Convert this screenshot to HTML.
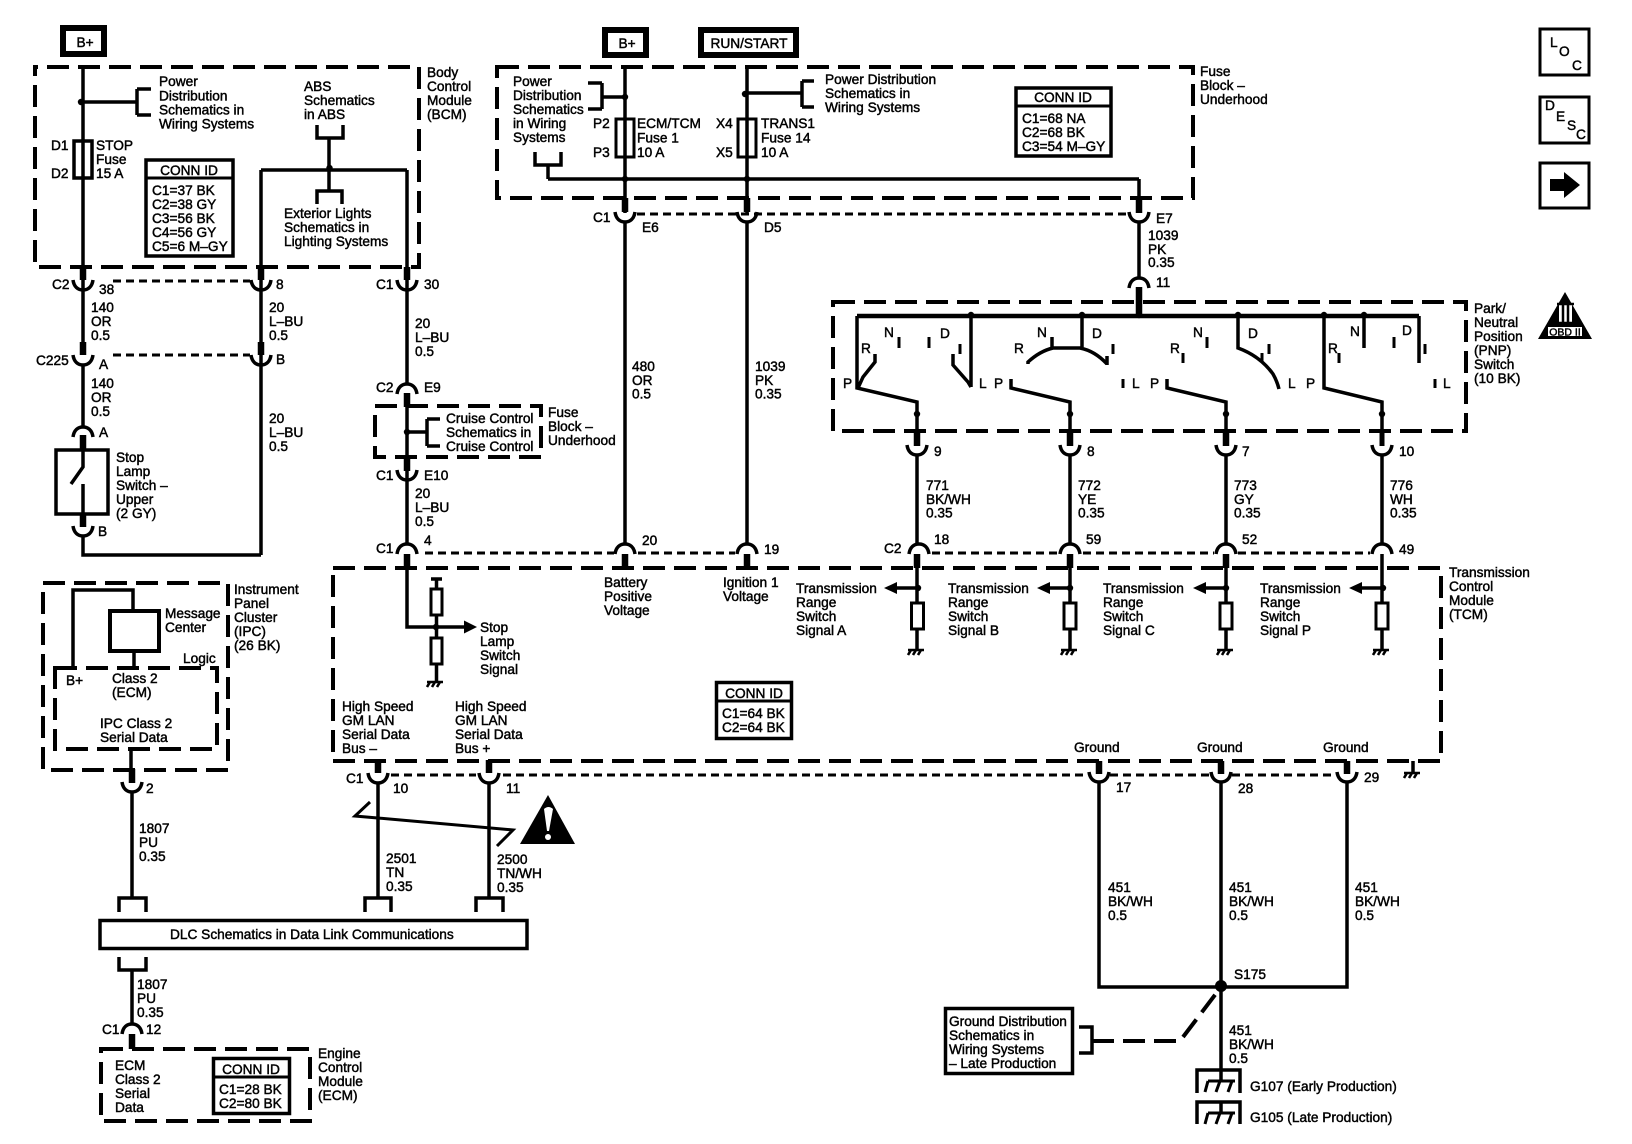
<!DOCTYPE html>
<html><head><meta charset="utf-8"><title>Wiring schematic</title>
<style>
html,body{margin:0;padding:0;background:#fff}
svg{display:block}
text{font-family:"Liberation Sans",sans-serif;font-size:13.7px;fill:#000;stroke:#000;stroke-width:.45}
.w{fill:none;stroke:#000;stroke-width:3.5}
.t{fill:none;stroke:#000;stroke-width:6.5}
.b{fill:#fff;stroke:#000;stroke-width:3.5}
.d{fill:none;stroke:#000;stroke-width:4;stroke-dasharray:22 9}
.r{fill:none;stroke:#000;stroke-width:3;stroke-dasharray:8 5}
.k{fill:none;stroke:#000;stroke-width:3}
.m{text-anchor:middle}
</style></head><body>
<svg width="1632" height="1144" viewBox="0 0 1632 1144" xmlns="http://www.w3.org/2000/svg">
<defs>
<path id="cup" d="M-10 -10C-9 -3-5 0 0 0C5 0 9 -3 10 -10" fill="none" stroke="#000" stroke-width="3.5"/>
<path id="cap" d="M-10 10C-9 3-5 0 0 0C5 0 9 3 10 10" fill="none" stroke="#000" stroke-width="3.5"/>
<path id="gnd" d="M-8 0H8M-5 0L-8 5M0 0L-3 5M5 0L2 5" fill="none" stroke="#000" stroke-width="2.6"/>
<path id="gbig" d="M-13 0H14M-13 0L-16 11M-1 0L-5 11M11 0L7 11" fill="none" stroke="#000" stroke-width="3"/>
<circle id="dot" r="3.2" fill="#000"/>
</defs>
<rect width="1632" height="1144" fill="#fff"/>

<!-- dashed module boxes -->
<rect class="d" x="35" y="67" width="384" height="200" stroke-dashoffset="-12" style="stroke-dashoffset:-12"/>
<rect class="d" x="497" y="67" width="696" height="131"/>
<rect class="d" x="833" y="302" width="633" height="129"/>
<rect class="d" x="333" y="568" width="1108" height="193"/>
<rect class="d" x="375" y="406" width="166" height="51"/>
<rect class="d" x="43" y="583" width="185" height="187"/>
<rect class="d" x="55" y="668" width="162" height="81"/>
<rect class="d" x="101" y="1049" width="209" height="72"/>

<!-- connector dashed rows -->
<path class="r" d="M113 281H250M113 355H250M637 214H1128M425 553H614M638 553H735M932 553H1058M1083 553H1214M1238 553H1370M391 775H476M503 775H1088M1110 775H1210M1232 775H1336"/>

<!-- power boxes -->
<rect x="63" y="28" width="41" height="26" fill="#fff" stroke="#000" stroke-width="6"/>
<text class="m" x="85" y="47">B+</text>
<rect x="605" y="30" width="41" height="25" fill="#fff" stroke="#000" stroke-width="6"/>
<text class="m" x="627" y="48">B+</text>
<rect x="701" y="30" width="95" height="25" fill="#fff" stroke="#000" stroke-width="6"/>
<text class="m" x="749" y="48">RUN/START</text>

<!-- BCM -->
<path class="w" d="M83 67V290M83 102H137M137 89V115M137 89H151M137 115H151M261 170V290M407 170V290M261 170H407M329 138V191M317 125V138H343V125M317 204V191H342V204M83 290V342M83 365V427M261 290V555M83 535V555H261"/>
<use href="#dot" x="81" y="102"/><use href="#dot" x="329.500" y="168"/>
<rect x="74" y="141" width="18" height="37" fill="none" stroke="#000" stroke-width="3.500"/>
<path class="t" d="M83 267V280M261 267V280M407 267V280M83 342V355M261 342V355M83 435V450M83 514V527M407 393V407M407 457V471M407 554V569"/>
<use href="#cup" x="83" y="290"/><use href="#cup" x="261" y="290"/><use href="#cup" x="407" y="290"/>
<use href="#cup" x="83" y="365"/><use href="#cup" x="261" y="365"/>
<text x="159" y="86">Power<tspan x="159" dy="14.300">Distribution</tspan><tspan x="159" dy="14">Schematics in</tspan><tspan x="159" dy="14">Wiring Systems</tspan></text>
<text x="51" y="150">D1</text><text x="51" y="178">D2</text>
<text x="96" y="150">STOP<tspan x="96" dy="14">Fuse</tspan><tspan x="96" dy="14">15 A</tspan></text>
<rect class="b" x="146" y="160" width="87" height="96"/><path class="k" d="M146 178H233"/>
<text class="m" x="189" y="175">CONN ID</text>
<text x="152" y="195">C1=37 BK<tspan x="152" dy="14">C2=38 GY</tspan><tspan x="152" dy="14">C3=56 BK</tspan><tspan x="152" dy="14">C4=56 GY</tspan><tspan x="152" dy="14">C5=6 M–GY</tspan></text>
<text x="304" y="91">ABS<tspan x="304" dy="14">Schematics</tspan><tspan x="304" dy="14">in ABS</tspan></text>
<text x="284" y="218">Exterior Lights<tspan x="284" dy="14">Schematics in</tspan><tspan x="284" dy="14">Lighting Systems</tspan></text>
<text x="427" y="77">Body<tspan x="427" dy="14">Control</tspan><tspan x="427" dy="14">Module</tspan><tspan x="427" dy="14">(BCM)</tspan></text>
<text x="52" y="289">C2</text><text x="99" y="294">38</text><text x="276" y="289">8</text><text x="376" y="289">C1</text><text x="424" y="289">30</text>
<text x="91" y="312">140<tspan x="91" dy="14">OR</tspan><tspan x="91" dy="14">0.5</tspan></text>
<text x="269" y="312">20<tspan x="269" dy="14">L–BU</tspan><tspan x="269" dy="14">0.5</tspan></text>
<text x="415" y="328">20<tspan x="415" dy="14">L–BU</tspan><tspan x="415" dy="14">0.5</tspan></text>
<text x="36" y="365">C225</text><text x="99" y="369">A</text><text x="276" y="364">B</text>
<text x="91" y="388">140<tspan x="91" dy="14">OR</tspan><tspan x="91" dy="14">0.5</tspan></text>
<text x="269" y="423">20<tspan x="269" dy="14">L–BU</tspan><tspan x="269" dy="14">0.5</tspan></text>

<!-- stop lamp switch -->
<use href="#cap" x="83" y="427"/>
<rect x="56" y="450" width="52" height="64" fill="none" stroke="#000" stroke-width="3.500"/>
<path class="w" d="M83 450V467L71 484M83 484V514"/>
<use href="#cup" x="83" y="536"/>
<text x="99" y="437">A</text><text x="98" y="536">B</text>
<text x="116" y="462">Stop<tspan x="116" dy="14">Lamp</tspan><tspan x="116" dy="14">Switch –</tspan><tspan x="116" dy="14">Upper</tspan><tspan x="116" dy="14">(2 GY)</tspan></text>

<!-- C1/C2 column -->
<use href="#cap" x="407" y="384"/>
<path class="w" d="M407 290V384M407 393V544M407 554V627H464M407 432H427M427 419V446M427 419H440M427 446H440"/>
<use href="#dot" x="407" y="432"/>
<use href="#cup" x="407" y="480"/><use href="#cap" x="407" y="544"/>
<text x="376" y="392">C2</text><text x="424" y="392">E9</text>
<text x="446" y="423">Cruise Control<tspan x="446" dy="14">Schematics in</tspan><tspan x="446" dy="14">Cruise Control</tspan></text>
<text x="548" y="417">Fuse<tspan x="548" dy="14">Block –</tspan><tspan x="548" dy="14">Underhood</tspan></text>
<text x="376" y="480">C1</text><text x="424" y="480">E10</text>
<text x="415" y="498">20<tspan x="415" dy="14">L–BU</tspan><tspan x="415" dy="14">0.5</tspan></text>
<text x="376" y="553">C1</text><text x="424" y="545">4</text>

<!-- stop lamp signal inside TCM -->
<path d="M464 620.500L477 627L464 633.500Z" fill="#000"/>
<path class="w" d="M431 579H442M436.500 579V589M436.500 615V638M436.500 664V682"/>
<rect x="431" y="589" width="11" height="26" fill="none" stroke="#000" stroke-width="3"/>
<rect x="431" y="638" width="11" height="26" fill="none" stroke="#000" stroke-width="3"/>
<use href="#dot" x="436" y="627"/><use href="#gnd" x="435" y="682"/>
<text x="480" y="632">Stop<tspan x="480" dy="14">Lamp</tspan><tspan x="480" dy="14">Switch</tspan><tspan x="480" dy="14">Signal</tspan></text>

<!-- Fuse block -->
<path class="w" d="M625 67V213M747 67V213M625 222V544M747 222V544M1139 179V213M1139 222V278M548 179H1139M548 165V179M535 152V165H561V152M602 83V109M588 83H602M588 109H602M602 97H625M747 93H802M802 81V107M802 81H814M802 107H814"/>
<use href="#dot" x="625" y="97"/><use href="#dot" x="745" y="94"/><use href="#dot" x="625" y="179"/><use href="#dot" x="747" y="179"/>
<rect x="616" y="119" width="18" height="38" fill="none" stroke="#000" stroke-width="3"/>
<rect x="738" y="119" width="18" height="38" fill="none" stroke="#000" stroke-width="3"/>
<path class="t" d="M625 198V212M747 198V212M1139 198V213M1139 287V316M625 554V568M747 554V568"/>
<use href="#cup" x="625" y="222"/><use href="#cup" x="747" y="222"/><use href="#cup" x="1139" y="222"/><use href="#cap" x="1139" y="278"/>
<use href="#cap" x="625" y="544"/><use href="#cap" x="747" y="544"/>
<text x="513" y="86">Power<tspan x="513" dy="14">Distribution</tspan><tspan x="513" dy="14">Schematics</tspan><tspan x="513" dy="14">in Wiring</tspan><tspan x="513" dy="14">Systems</tspan></text>
<text x="593" y="128">P2</text><text x="593" y="157">P3</text>
<text x="637" y="128">ECM/TCM<tspan x="637" dy="14.500">Fuse 1</tspan><tspan x="637" dy="14.500">10 A</tspan></text>
<text x="716" y="128">X4</text><text x="716" y="157">X5</text>
<text x="761" y="128">TRANS1<tspan x="761" dy="14.500">Fuse 14</tspan><tspan x="761" dy="14.500">10 A</tspan></text>
<text x="825" y="84">Power Distribution<tspan x="825" dy="14">Schematics in</tspan><tspan x="825" dy="14">Wiring Systems</tspan></text>
<rect class="b" x="1016" y="88" width="95" height="68"/><path class="k" d="M1016 106H1111"/>
<text class="m" x="1063" y="102">CONN ID</text>
<text x="1022" y="123">C1=68 NA<tspan x="1022" dy="14">C2=68 BK</tspan><tspan x="1022" dy="14">C3=54 M–GY</tspan></text>
<text x="1200" y="76">Fuse<tspan x="1200" dy="14">Block –</tspan><tspan x="1200" dy="14">Underhood</tspan></text>
<text x="593" y="222">C1</text><text x="642" y="232">E6</text><text x="764" y="232">D5</text><text x="1156" y="223">E7</text>
<text x="1148" y="240">1039<tspan x="1148" dy="14">PK</tspan><tspan x="1148" dy="13">0.35</tspan></text>
<text x="1156" y="287">11</text>
<text x="632" y="371">480<tspan x="632" dy="14">OR</tspan><tspan x="632" dy="13.500">0.5</tspan></text>
<text x="755" y="371">1039<tspan x="755" dy="14">PK</tspan><tspan x="755" dy="13.500">0.35</tspan></text>
<text x="642" y="545">20</text><text x="764" y="554">19</text>
<text x="604" y="587">Battery<tspan x="604" dy="14">Positive</tspan><tspan x="604" dy="14">Voltage</tspan></text>
<text x="723" y="587">Ignition 1<tspan x="723" dy="14">Voltage</tspan></text>

<!-- PNP switch -->
<path d="M857 316H1419" fill="none" stroke="#000" stroke-width="4.500"/>
<path class="w" d="M857 316V388L917 402V446M875 354V362L863 377L858 388M971 316V387M953 354V365L968 382L971 387"/>
<path class="w" d="M1011 379V388L1070 402V446M1167 379V388L1226 402V446M1324 316V388L1382 402V446M1028 364V362Q1040 351 1053 348H1080Q1095 351 1107 364M1107 356V365M1082 316V348M1052 337V348M1238 316V348Q1260 356 1273 374Q1277 381 1279 389M1364 316V348M1419 316V363"/>
<path class="k" d="M899 337V348M929 337V348M960 344V354M1113 344V354M1123 379V388M1183 353V363M1207 337V348M1269 344V354M1262 353V361M1339 353V363M1394 337V348M1425 344V354M1435 379V388"/>
<use href="#dot" x="971" y="315"/><use href="#dot" x="1082" y="315"/><use href="#dot" x="1139" y="315"/><use href="#dot" x="1238" y="315"/><use href="#dot" x="1324" y="315"/><use href="#dot" x="1364" y="315"/>
<use href="#dot" x="917" y="414"/><use href="#dot" x="1070" y="414"/><use href="#dot" x="1226" y="414"/><use href="#dot" x="1382" y="414"/>
<text x="843" y="388">P</text><text x="861" y="353">R</text><text x="884" y="337">N</text><text x="940" y="338">D</text><text x="979" y="388">L</text><text x="994" y="388">P</text>
<text x="1014" y="353">R</text><text x="1037" y="337">N</text><text x="1092" y="338">D</text><text x="1132" y="388">L</text><text x="1150" y="388">P</text>
<text x="1170" y="353">R</text><text x="1193" y="337">N</text><text x="1248" y="338">D</text><text x="1288" y="388">L</text><text x="1306" y="388">P</text>
<text x="1328" y="353">R</text><text x="1350" y="336">N</text><text x="1402" y="335">D</text><text x="1443" y="388">L</text>
<text x="1474" y="313">Park/<tspan x="1474" dy="14">Neutral</tspan><tspan x="1474" dy="14">Position</tspan><tspan x="1474" dy="14">(PNP)</tspan><tspan x="1474" dy="14">Switch</tspan><tspan x="1474" dy="14">(10 BK)</tspan></text>

<!-- OBD triangle -->
<path d="M1565 292L1592 339H1538Z" fill="#000"/>
<rect x="1548" y="327" width="34" height="9" fill="#fff"/>
<text class="m" x="1565" y="335.500" style="font-size:10.500px">OBD II</text>
<rect x="1559" y="304" width="13" height="19" fill="#fff"/>
<path d="M1557 304H1574M1557 323H1574M1563 304V323M1568 304V323" fill="none" stroke="#000" stroke-width="2.500"/>

<!-- PNP to TCM wires -->
<path class="t" d="M917 432V446M1070 432V446M1226 432V446M917 554V568M1070 554V568M1226 554V568"/>
<path class="w" style="stroke-width:5" d="M1382 431V446"/>
<path class="w" d="M917 455V544M1070 455V544M1226 455V544M1382 455V544M1382 554V568"/>
<use href="#cup" x="917" y="455"/><use href="#cup" x="1070" y="455"/><use href="#cup" x="1226" y="455"/><use href="#cup" x="1382" y="455"/>
<use href="#cap" x="919" y="544"/><use href="#cap" x="1070" y="544"/><use href="#cap" x="1226" y="544"/><use href="#cap" x="1382" y="544"/>
<text x="934" y="456">9</text><text x="1087" y="456">8</text><text x="1242" y="456">7</text><text x="1399" y="456">10</text>
<text x="926" y="490">771<tspan x="926" dy="14">BK/WH</tspan><tspan x="926" dy="13.500">0.35</tspan></text>
<text x="1078" y="490">772<tspan x="1078" dy="14">YE</tspan><tspan x="1078" dy="13.500">0.35</tspan></text>
<text x="1234" y="490">773<tspan x="1234" dy="14">GY</tspan><tspan x="1234" dy="13.500">0.35</tspan></text>
<text x="1390" y="490">776<tspan x="1390" dy="14">WH</tspan><tspan x="1390" dy="13.500">0.35</tspan></text>
<text x="884" y="553">C2</text><text x="934" y="544">18</text><text x="1086" y="544">59</text><text x="1242" y="544">52</text><text x="1399" y="554">49</text>

<!-- TCM range inputs -->
<path class="w" d="M917 568V603M917 629V650M1070 568V603M1070 629V650M1226 568V603M1226 629V650M1382 568V603M1382 629V650"/>
<rect x="911.500" y="603" width="12" height="26" fill="none" stroke="#000" stroke-width="3"/>
<rect x="1064" y="603" width="12" height="26" fill="none" stroke="#000" stroke-width="3"/>
<rect x="1220" y="603" width="12" height="26" fill="none" stroke="#000" stroke-width="3"/>
<rect x="1376" y="603" width="12" height="26" fill="none" stroke="#000" stroke-width="3"/>
<path class="w" d="M917 588H895M1070 588H1048M1226 588H1204M1382 588H1360"/>
<path d="M884 588L897 582V594ZM1037 588L1050 582V594ZM1193 588L1206 582V594ZM1349 588L1362 582V594Z" fill="#000"/>
<use href="#dot" x="918" y="588"/><use href="#dot" x="1070" y="588"/><use href="#dot" x="1226" y="588"/><use href="#dot" x="1383" y="588"/>
<use href="#gnd" x="916" y="650"/><use href="#gnd" x="1069" y="650"/><use href="#gnd" x="1225" y="650"/><use href="#gnd" x="1381" y="650"/>
<text x="796" y="593">Transmission<tspan x="796" dy="14">Range</tspan><tspan x="796" dy="14">Switch</tspan><tspan x="796" dy="14">Signal A</tspan></text>
<text x="948" y="593">Transmission<tspan x="948" dy="14">Range</tspan><tspan x="948" dy="14">Switch</tspan><tspan x="948" dy="14">Signal B</tspan></text>
<text x="1103" y="593">Transmission<tspan x="1103" dy="14">Range</tspan><tspan x="1103" dy="14">Switch</tspan><tspan x="1103" dy="14">Signal C</tspan></text>
<text x="1260" y="593">Transmission<tspan x="1260" dy="14">Range</tspan><tspan x="1260" dy="14">Switch</tspan><tspan x="1260" dy="14">Signal P</tspan></text>
<text x="1449" y="577">Transmission<tspan x="1449" dy="14">Control</tspan><tspan x="1449" dy="14">Module</tspan><tspan x="1449" dy="14">(TCM)</tspan></text>

<rect class="b" x="716.500" y="682.500" width="75" height="56"/><path class="k" d="M716 701H792"/>
<text class="m" x="754" y="698">CONN ID</text>
<text x="722" y="718">C1=64 BK<tspan x="722" dy="14">C2=64 BK</tspan></text>
<text x="342" y="711">High Speed<tspan x="342" dy="14">GM LAN</tspan><tspan x="342" dy="14">Serial Data</tspan><tspan x="342" dy="14">Bus –</tspan></text>
<text x="455" y="711">High Speed<tspan x="455" dy="14">GM LAN</tspan><tspan x="455" dy="14">Serial Data</tspan><tspan x="455" dy="14">Bus +</tspan></text>
<text x="1074" y="752">Ground</text><text x="1197" y="752">Ground</text><text x="1323" y="752">Ground</text>
<path class="w" d="M1413 761V772"/><use href="#gnd" x="1412" y="773"/>

<!-- bus wires -->
<path class="t" d="M378 760V773M489 760V773M1099 761V774M1221 761V774M1347 761V774"/>
<use href="#cup" x="378" y="783"/><use href="#cup" x="489" y="783"/><use href="#cup" x="1099" y="782"/><use href="#cup" x="1221" y="782"/><use href="#cup" x="1347" y="782"/>
<path class="w" d="M378 783V898M489 783V898M365 912V898H391V912M476 912V898H503V912"/>
<path class="w" d="M370 802L355 816L513 830L497 846" style="stroke-width:3"/>
<text x="346" y="783">C1</text><text x="393" y="793">10</text><text x="506" y="793">11</text>
<text x="386" y="863">2501<tspan x="386" dy="14">TN</tspan><tspan x="386" dy="14">0.35</tspan></text>
<text x="497" y="864">2500<tspan x="497" dy="14">TN/WH</tspan><tspan x="497" dy="14">0.35</tspan></text>
<path d="M548 795L575 844H520Z" fill="#000"/>
<path d="M544 809Q548.500 805 553 809L549 831H547Z" fill="#fff"/><circle cx="548" cy="837" r="3" fill="#fff"/>

<!-- IPC -->
<path class="w" d="M73 668V590H133V609M134 652V668M131 749V770"/>
<rect x="110" y="611" width="49" height="40" fill="none" stroke="#000" stroke-width="4"/>
<path class="t" d="M132 769V783"/>
<use href="#cup" x="132" y="792"/>
<path class="w" d="M132 792V898M119 912V898H146V912M119 957V970H146V957M132 970V1024"/>
<text x="165" y="618">Message<tspan x="165" dy="14">Center</tspan></text>
<text x="234" y="594">Instrument<tspan x="234" dy="14">Panel</tspan><tspan x="234" dy="14">Cluster</tspan><tspan x="234" dy="14">(IPC)</tspan><tspan x="234" dy="14">(26 BK)</tspan></text>
<text x="183" y="663">Logic</text><text x="66" y="685">B+</text>
<text x="112" y="683">Class 2<tspan x="112" dy="14">(ECM)</tspan></text>
<text x="100" y="728">IPC Class 2<tspan x="100" dy="14">Serial Data</tspan></text>
<text x="146" y="793">2</text>
<text x="139" y="833">1807<tspan x="139" dy="14">PU</tspan><tspan x="139" dy="14">0.35</tspan></text>

<!-- DLC -->
<rect x="100" y="920.500" width="427" height="28" fill="#fff" stroke="#000" stroke-width="3.500"/>
<text x="170" y="939">DLC Schematics in Data Link Communications</text>
<text x="137" y="989">1807<tspan x="137" dy="14">PU</tspan><tspan x="137" dy="14">0.35</tspan></text>
<use href="#cap" x="132" y="1024"/>
<path class="t" d="M132 1034V1049"/>
<text x="102" y="1034">C1</text><text x="146" y="1034">12</text>
<text x="115" y="1070">ECM<tspan x="115" dy="14">Class 2</tspan><tspan x="115" dy="14">Serial</tspan><tspan x="115" dy="14">Data</tspan></text>
<rect class="b" x="213.500" y="1058.500" width="76" height="55"/><path class="k" d="M213 1077H290"/>
<text class="m" x="251" y="1074">CONN ID</text>
<text x="219" y="1094">C1=28 BK<tspan x="219" dy="14">C2=80 BK</tspan></text>
<text x="318" y="1058">Engine<tspan x="318" dy="14">Control</tspan><tspan x="318" dy="14">Module</tspan><tspan x="318" dy="14">(ECM)</tspan></text>

<!-- grounds -->
<path class="w" d="M1099 782V987H1347V782M1221 782V1081"/>
<circle cx="1221" cy="986" r="6" fill="#000"/>
<text x="1116" y="792">17</text><text x="1238" y="793">28</text><text x="1364" y="782">29</text>
<text x="1108" y="892">451<tspan x="1108" dy="14">BK/WH</tspan><tspan x="1108" dy="14">0.5</tspan></text>
<text x="1229" y="892">451<tspan x="1229" dy="14">BK/WH</tspan><tspan x="1229" dy="14">0.5</tspan></text>
<text x="1355" y="892">451<tspan x="1355" dy="14">BK/WH</tspan><tspan x="1355" dy="14">0.5</tspan></text>
<text x="1234" y="979">S175</text>
<text x="1229" y="1035">451<tspan x="1229" dy="14">BK/WH</tspan><tspan x="1229" dy="14">0.5</tspan></text>
<path class="w" d="M1197 1093V1070H1240V1093M1197 1124V1102H1240V1124M1221 1102V1112"/>
<use href="#gbig" x="1221" y="1081"/><use href="#gbig" x="1221" y="1113"/>
<text x="1250" y="1091">G107 (Early Production)</text>
<text x="1250" y="1122">G105 (Late Production)</text>
<rect class="b" x="945.500" y="1008.500" width="127" height="65"/>
<text x="949" y="1026">Ground Distribution<tspan x="949" dy="14">Schematics in</tspan><tspan x="949" dy="14">Wiring Systems</tspan><tspan x="949" dy="14">– Late Production</tspan></text>
<path class="w" d="M1079 1027H1092V1053H1079"/>
<path class="d" d="M1092 1041H1180L1221 987"/>

<!-- icons -->
<rect x="1540" y="29" width="49" height="46" fill="#fff" stroke="#000" stroke-width="3"/>
<text x="1550" y="47">L</text><text x="1559" y="56">O</text><text x="1572" y="70">C</text>
<rect x="1540" y="97" width="49" height="46" fill="#fff" stroke="#000" stroke-width="3"/>
<text x="1545" y="110">D</text><text x="1556" y="121">E</text><text x="1567" y="130">S</text><text x="1576" y="139">C</text>
<rect x="1540" y="163" width="49" height="45" fill="#fff" stroke="#000" stroke-width="3"/>
<path d="M1550 179H1564V172L1580 185L1564 198V191H1550Z" fill="#000"/>
</svg>
</body></html>
